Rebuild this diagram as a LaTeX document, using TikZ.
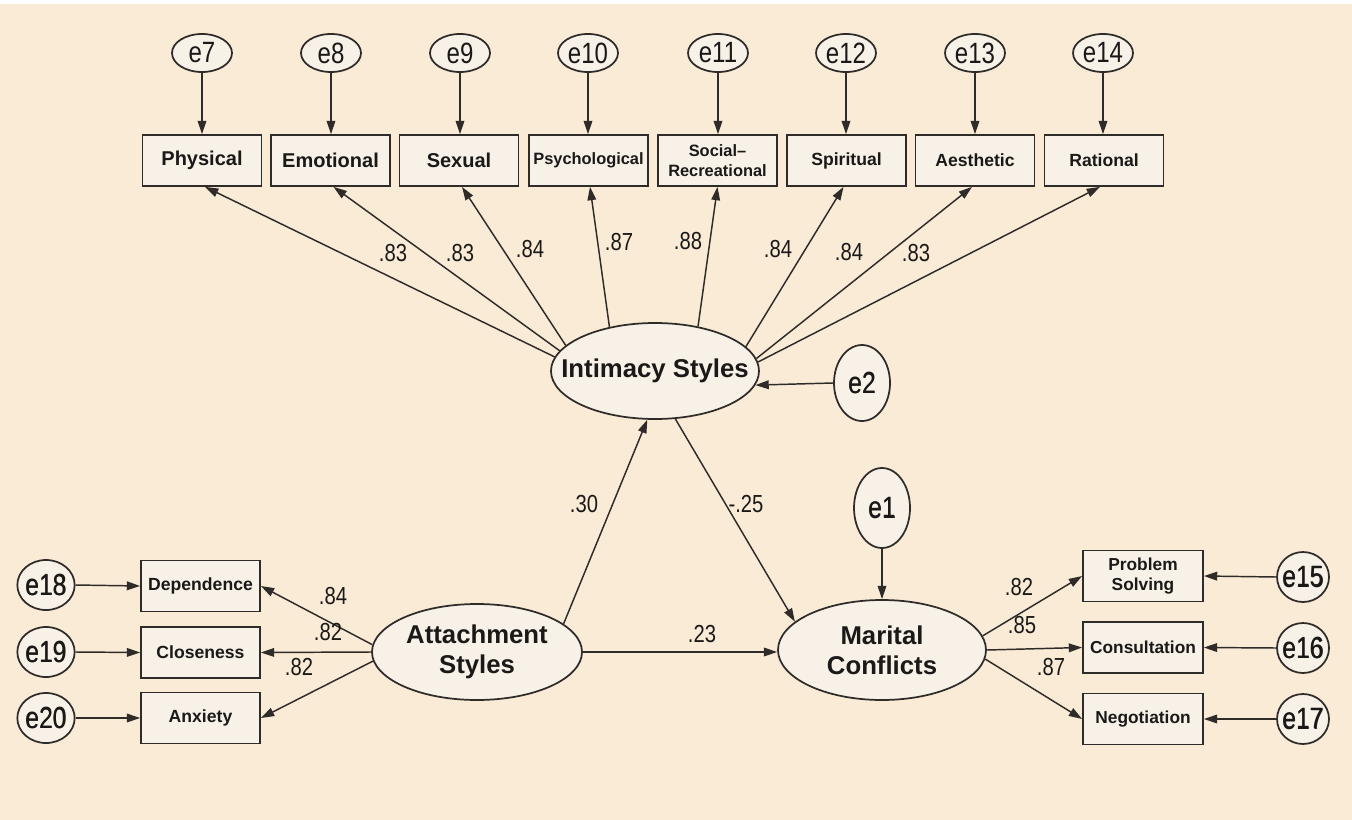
\documentclass[tikz,border=0pt]{standalone}
\usepackage{fontspec}
\setmainfont{Liberation Sans}
\newfontfamily\nar[FakeStretch=0.82]{Liberation Sans}
\usetikzlibrary{arrows.meta,calc,shapes.geometric}
\definecolor{bg}{HTML}{FAEBD7}
\definecolor{nodefill}{HTML}{F8F1E7}
\definecolor{ln}{HTML}{2E2B29}
\definecolor{txt}{HTML}{1A1918}
\begin{document}
\begin{tikzpicture}[x=0.75pt,y=-0.75pt,
  shp/.style={draw=ln, fill=nodefill, line width=1.3pt, inner sep=0pt},
  errE/.style={ellipse, shp, minimum width=45pt, minimum height=28.5pt,
     label={[text=txt, inner sep=0pt, font=\nar\fontsize{22}{22}\selectfont]center:#1}},
  errC/.style={errE=#1, minimum width=43pt, minimum height=37.5pt,
     label={[text=txt, inner sep=0pt, font=\nar\fontsize{23}{23}\selectfont]center:#1}},
  errB/.style={errE=#1, minimum width=42pt,
     label={[text=txt, inner sep=0pt, font=\nar\fontsize{23}{23}\selectfont]center:#1}},
  box/.style={rectangle, shp, minimum width=89.25pt, minimum height=38.25pt, align=center, text=txt},
  fbig/.style={font=\bfseries\fontsize{15}{18}\selectfont},
  fmid/.style={font=\bfseries\fontsize{13.2}{16}\selectfont},
  fsml/.style={font=\bfseries\fontsize{12.3}{15}\selectfont},
  frgt/.style={font=\bfseries\fontsize{13}{15.5}\selectfont},
  flft/.style={font=\bfseries\fontsize{13.2}{16}\selectfont},
  lat/.style={ellipse, shp},
  latT/.style={align=center, text=txt, inner sep=0pt, font=\bfseries\fontsize{19.3}{22.5}\selectfont},
  arr/.style={-{Triangle[length=10pt,width=6.5pt]}, draw=ln, line width=1.1pt},
  lbl/.style={font=\nar\fontsize{18.5}{18.5}\selectfont, text=txt, inner sep=0pt}
]
\fill[bg] (0,0) rectangle (1352,820);
\fill[white] (0,0) rectangle (1352,4);
\useasboundingbox (0,0) rectangle (1352,820);

% top error terms
\node[errE=e7]  (e7)  at (202,53)  {};
\node[errE=e8]  (e8)  at (331,53)  {};
\node[errE=e9]  (e9)  at (460,53)  {};
\node[errE=e10] (e10) at (588,53)  {};
\node[errE=e11] (e11) at (718,53)  {};
\node[errE=e12] (e12) at (846,53)  {};
\node[errE=e13] (e13) at (975,53)  {};
\node[errE=e14] (e14) at (1103,53) {};

% top indicators
\node[box,fbig] (phys) at (202,160.5)   {Physical};
\node[box,fbig] (emo)  at (330.5,160.5) {Emotional};
\node[box,fbig] (sex)  at (459,160.5)   {Sexual};
\node[box,fsml] (psy)  at (588.5,160.5) {Psychological};
\node[box,fsml] (soc)  at (717.5,160.5) {Social–\\Recreational};
\node[box,fmid] (spi)  at (846.5,160.5) {Spiritual};
\node[box,fmid] (aes)  at (975,160.5)   {Aesthetic};
\node[box,fmid] (rat)  at (1104,160.5)  {Rational};

\foreach \e/\b in {e7/phys,e8/emo,e9/sex,e10/psy,e11/soc,e12/spi,e13/aes,e14/rat}
  \draw[arr] (\e.south) -- (\e.south |- \b.north);

% latent variables
\node[lat, minimum width=156pt, minimum height=72pt] (int) at (655,371) {};
\node[latT] (intT) at (int) {Intimacy Styles};
\node[lat, minimum width=157.5pt, minimum height=72pt] (att) at (477,652) {};
\node[latT] (attT) at (att) {Attachment\\Styles};
\node[lat, minimum width=156pt, minimum height=75pt] (mar) at (882,650) {};
\node[latT] (marT) at (mar) {Marital\\Conflicts};
\node[errB=e2, minimum height=57pt] (e2) at (862,383) {};
\node[errB=e1, minimum height=60pt] (e1) at (882,508) {};

% loadings intimacy
\draw[arr] (int.172)   -- ($(phys.south)+(3,0)$);
\draw[arr] (int.168.7) -- ($(emo.south)+(3,0)$);
\draw[arr] (int.164.9) -- ($(sex.south)+(3,0)$);
\draw[arr] (int.136)   -- ($(psy.south)+(1.5,0)$);
\draw[arr] (int.46.3)  -- ($(soc.south)+(0,0)$);
\draw[arr] (int.15.3)  -- ($(spi.south)+(-3,0)$);
\draw[arr] (int.7.8)   -- ($(aes.south)+(-3,0)$);
\draw[arr] (int.5)     -- ($(rat.south)+(-4,0)$);

\node[lbl] (l1) at (393,253) {.83};
\node[lbl] (l2) at (460,253) {.83};
\node[lbl] (l3) at (530,249) {.84};
\node[lbl] (l4) at (619,242) {.87};
\node[lbl] (l5) at (688,241) {.88};
\node[lbl] (l6) at (778,249) {.84};
\node[lbl] (l7) at (849,252) {.84};
\node[lbl] (l8) at (916,253) {.83};

% structural paths
\draw[arr] (e2.west) -- (int.-8);
\draw[arr] (att.18.6) -- (int.261.5);
\draw[arr] (int.293.6) -- (mar.162);
\draw[arr] (att.east) -- (att.east -| mar.west);
\draw[arr] (e1.south) -- (mar.north);
\node[lbl] (p1) at (584,504) {.30};
\node[lbl] (p2) at (746,504) {-.25};
\node[lbl] (p3) at (702,634) {.23};

% attachment indicators
\node[box,flft] (dep) at (200.5,586) {Dependence};
\node[box,flft] (clo) at (200.5,652.5) {Closeness};
\node[box,flft] (anx) at (200.5,718) {Anxiety};
\node[errC=e18] (e18) at (46,585) {};
\node[errC=e19] (e19) at (46,652) {};
\node[errC=e20] (e20) at (46,718) {};
\draw[arr] (e18.east) -- (dep.west);
\draw[arr] (e19.east) -- (clo.west);
\draw[arr] (e20.east) -- (anx.west);
\draw[arr] (att.176.5) -- (dep.east);
\draw[arr] (att.180) -- (clo.east);
\draw[arr] (att.185) -- (anx.east);
\node[lbl] (a1) at (333,596) {.84};
\node[lbl] (a2) at (328,632) {.82};
\node[lbl] (a3) at (299,667) {.82};

% marital indicators
\node[box,frgt,minimum width=90pt] (pro) at (1143,576) {Problem\\Solving};
\node[box,frgt,minimum width=90pt] (con) at (1143,647.5) {Consultation};
\node[box,frgt,minimum width=90pt] (neg) at (1143,719) {Negotiation};
\node[errC=e15, minimum width=39pt] (e15) at (1303,577) {};
\node[errC=e16, minimum width=39pt] (e16) at (1303,648) {};
\node[errC=e17, minimum width=39pt] (e17) at (1303,719) {};
\draw[arr] (e15.west) -- (pro.east);
\draw[arr] (e16.west) -- (con.east);
\draw[arr] (e17.west) -- (neg.east);
\draw[arr] (mar.8) -- (pro.west);
\draw[arr] (mar.0) -- (con.west);
\draw[arr] (mar.-5) -- (neg.west);
\node[lbl] (m1) at (1019,587) {.82};
\node[lbl] (m2) at (1022,625) {.85};
\node[lbl] (m3) at (1051,667) {.87};
\end{tikzpicture}
\end{document}
